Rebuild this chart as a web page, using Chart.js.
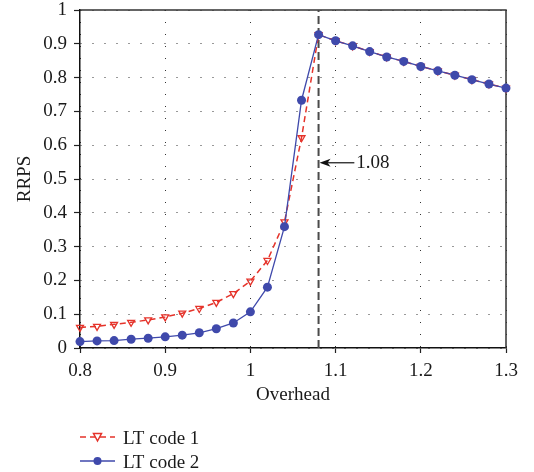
<!DOCTYPE html>
<html>
<head>
<meta charset="utf-8">
<script src="https://cdn.jsdelivr.net/npm/chart.js@4.4.1/dist/chart.umd.min.js"></script>
<style>
  html, body { margin: 0; padding: 0; background: #fff; }
  #wrap { width: 534px; height: 472px; }
</style>
</head>
<body>
<div id="wrap"><canvas id="c" width="534" height="472"></canvas></div>
<script>
// overhead values (x) and RRPS for both codes
const overhead = [0.80,0.82,0.84,0.86,0.88,0.90,0.92,0.94,0.96,0.98,1.00,1.02,1.04,1.06,1.08,
                  1.10,1.12,1.14,1.16,1.18,1.20,1.22,1.24,1.26,1.28,1.30];
const ltCode1 = [0.061,0.064,0.070,0.076,0.083,0.092,0.103,0.117,0.135,0.161,0.198,0.259,0.373,0.622,0.927,
                 0.909,0.894,0.877,0.861,0.848,0.833,0.820,0.807,0.794,0.781,0.769];
const ltCode2 = [0.019,0.021,0.022,0.026,0.029,0.033,0.038,0.045,0.057,0.074,0.107,0.180,0.359,0.733,0.927,
                 0.909,0.894,0.877,0.861,0.848,0.833,0.820,0.807,0.794,0.781,0.769];
const seriesNames = ['LT code 1', 'LT code 2'];

const xTicks = [0.8, 0.9, 1.0, 1.1, 1.2, 1.3];
const xTickLabels = ['0.8','0.9','1','1.1','1.2','1.3'];
const yTicks = [0,0.1,0.2,0.3,0.4,0.5,0.6,0.7,0.8,0.9,1];
const yTickLabels = ['0','0.1','0.2','0.3','0.4','0.5','0.6','0.7','0.8','0.9','1'];

const markX = 1.08;          // threshold marker
const markLabel = '1.08';
const arrowY = 0.548;        // height of the arrow
const arrowTailX = 1.122;

const RED = '#e5332a';
const BLUE = '#3f49ab';
const FONT = '"Liberation Serif", "Times New Roman", serif';

Chart.defaults.font.family = FONT;
Chart.defaults.font.size = 19;
Chart.defaults.color = '#1a1a1a';

const pts = ys => overhead.map((x,i)=>({x, y:ys[i]}));

const extras = {
  id: 'extras',
  beforeDatasetsDraw(chart){
    const {ctx, chartArea:a} = chart;
    ctx.save();
    ctx.strokeStyle = '#333';
    ctx.lineWidth = 1.5;
    ctx.beginPath();
    ctx.moveTo(a.left, a.top); ctx.lineTo(a.right, a.top); ctx.lineTo(a.right, a.bottom);
    ctx.stroke();
    ctx.restore();
  },
  afterDatasetsDraw(chart){
    const {ctx, chartArea:a, scales:{x, y}} = chart;
    // arrow + label
    const tip = x.getPixelForValue(markX) + 1;
    const tail = x.getPixelForValue(arrowTailX);
    const ay = y.getPixelForValue(arrowY);
    ctx.save();
    ctx.strokeStyle = '#111'; ctx.fillStyle = '#111'; ctx.lineWidth = 1.2;
    ctx.beginPath(); ctx.moveTo(tip + 6, ay); ctx.lineTo(tail, ay); ctx.stroke();
    ctx.beginPath(); ctx.moveTo(tip, ay); ctx.lineTo(tip + 11, ay - 4); ctx.lineTo(tip + 8, ay); ctx.lineTo(tip + 11, ay + 4); ctx.closePath(); ctx.fill();
    ctx.font = '19px ' + FONT;
    ctx.textBaseline = 'middle'; ctx.textAlign = 'left';
    ctx.fillStyle = '#1a1a1a';
    ctx.fillText(markLabel, tail + 2, ay);

    // legend below the axis
    const lx = a.left, rows = [a.bottom + 89, a.bottom + 113];
    chart.data.datasets.slice(0,2).forEach((ds, i) => {
      const ry = rows[i];
      ctx.strokeStyle = ds.borderColor; ctx.lineWidth = 1.5;
      ctx.setLineDash(ds.borderDash || []);
      ctx.beginPath(); ctx.moveTo(lx, ry); ctx.lineTo(lx + 35, ry); ctx.stroke();
      ctx.setLineDash([]);
      const mx = lx + 17.5;
      if (i === 0) {
        ctx.fillStyle = '#fff';
        ctx.beginPath(); ctx.moveTo(mx - 4, ry - 3.5); ctx.lineTo(mx + 4, ry - 3.5); ctx.lineTo(mx, ry + 4); ctx.closePath();
        ctx.fill(); ctx.stroke();
      } else {
        ctx.fillStyle = ds.backgroundColor;
        ctx.beginPath(); ctx.arc(mx, ry, 4, 0, Math.PI*2); ctx.fill();
      }
      ctx.fillStyle = '#1a1a1a';
      ctx.fillText(seriesNames[i], lx + 43, ry + 2);
    });
    ctx.restore();
  }
};

new Chart(document.getElementById('c'), {
  type: 'line',
  data: {
    datasets: [
      {
        label: seriesNames[0], data: pts(ltCode1), order: 1,
        borderColor: RED, borderWidth: 1.5, borderDash: [6,4],
        pointStyle: 'triangle', rotation: 180, pointRadius: 4,
        pointBorderColor: RED, pointBackgroundColor: 'transparent', pointBorderWidth: 1.3,
        backgroundColor: 'transparent', clip: false
      },
      {
        label: seriesNames[1], data: pts(ltCode2), order: 0,
        borderColor: BLUE, borderWidth: 1.3,
        pointStyle: 'circle', pointRadius: 4.5, pointBorderWidth: 0,
        pointBackgroundColor: BLUE, backgroundColor: BLUE, clip: false
      },
      {
        label: 'mark', data: [{x: markX, y: 0}, {x: markX, y: 1}], order: 2,
        borderColor: '#4a4a4a', borderWidth: 2, borderDash: [8,4], pointRadius: 0
      }
    ]
  },
  options: {
    responsive: false, animation: false,
    layout: { padding: { left: 0, top: 10, right: 28, bottom: 64 } },
    plugins: { legend: { display: false }, tooltip: { enabled: false } },
    scales: {
      x: {
        type: 'linear', min: 0.8, max: 1.3,
        afterBuildTicks: s => { s.ticks = xTicks.map(v => ({value: v})); },
        afterFit: s => { s.height = 60; },
        ticks: { padding: 7, callback: (v, i) => xTickLabels[i] },
        grid: { color: '#333', lineWidth: 1, tickColor: '#222',
                tickBorderDash: [], tickLength: 5, tickWidth: 1.2 },
        border: { color: '#111', width: 1.5, dash: [1,11] },
        title: { display: true, text: 'Overhead', padding: { top: 0, bottom: 2 } }
      },
      y: {
        min: 0, max: 1,
        afterBuildTicks: s => { s.ticks = yTicks.map(v => ({value: v})); },
        afterFit: s => { s.width = 80; s.paddingTop = 0; },
        ticks: { padding: 7, callback: (v, i) => yTickLabels[i] },
        grid: { color: '#333', lineWidth: 1, tickColor: '#222',
                tickBorderDash: [], tickLength: 6, tickWidth: 1.2 },
        border: { color: '#111', width: 1.5, dash: [1,11] },
        title: { display: true, text: 'RRPS', padding: { top: 14, bottom: 0 } }
      }
    }
  },
  plugins: [extras]
});
</script>
</body>
</html>
